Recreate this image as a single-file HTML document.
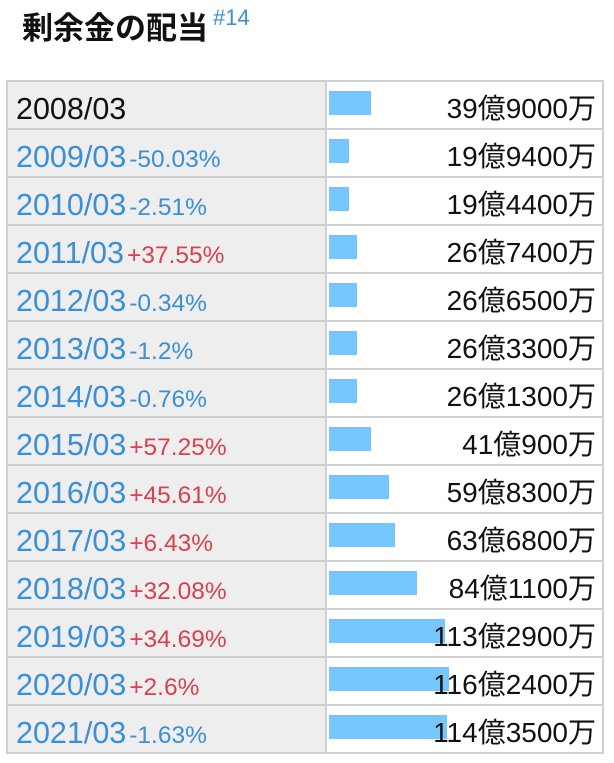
<!DOCTYPE html><html><head><meta charset="utf-8"><style>
body{margin:0;width:614px;height:760px;background:#fff;font-family:"Liberation Sans","Noto Sans CJK JP",sans-serif;position:relative;overflow:hidden}
h1{position:absolute;left:22px;top:4px;margin:0;font-size:31px;line-height:44px;font-weight:bold;color:#111;font-family:"Noto Sans CJK JP",sans-serif;white-space:nowrap}
.sup{position:absolute;left:213px;top:5px;font-size:22px;color:#3a8fd6}
.row{position:absolute;left:6px;width:598px;height:48px;box-sizing:border-box;border:2px solid #d0d0d0;border-bottom:none}
.l{position:absolute;left:0;top:0;width:319px;height:46px;background:#eee;border-right:2px solid #d0d0d0;color:#3a8fd6;font-size:30.5px;line-height:54px;padding-left:8px;box-sizing:border-box;white-space:nowrap}
.r{position:absolute;left:321px;top:0;width:267px;height:46px;text-align:right;color:#111;font-size:28px;line-height:54px;white-space:nowrap}
.b{position:absolute;left:0;top:9px;height:24px;background:#77c7ff}
.v{position:relative}
.p{font-size:24.5px;color:#3a8fd6;margin-left:3px}.n{color:#d9414f}
.end{position:absolute;left:6px;top:752px;width:598px;height:2px;background:#d0d0d0}
</style></head><body>
<h1>剰余金の配当</h1><div class="sup">#14</div>
<div class="row" style="top:80px"><div class="l" style="color:#111">2008/03</div><div class="r"><div class="b" style="width:42px"></div><span class="v">39億9000万</span></div></div>
<div class="row" style="top:128px"><div class="l">2009/03<span class="p">-50.03%</span></div><div class="r"><div class="b" style="width:20px"></div><span class="v">19億9400万</span></div></div>
<div class="row" style="top:176px"><div class="l">2010/03<span class="p">-2.51%</span></div><div class="r"><div class="b" style="width:20px"></div><span class="v">19億4400万</span></div></div>
<div class="row" style="top:224px"><div class="l">2011/03<span class="p n">+37.55%</span></div><div class="r"><div class="b" style="width:28px"></div><span class="v">26億7400万</span></div></div>
<div class="row" style="top:272px"><div class="l">2012/03<span class="p">-0.34%</span></div><div class="r"><div class="b" style="width:28px"></div><span class="v">26億6500万</span></div></div>
<div class="row" style="top:320px"><div class="l">2013/03<span class="p">-1.2%</span></div><div class="r"><div class="b" style="width:28px"></div><span class="v">26億3300万</span></div></div>
<div class="row" style="top:368px"><div class="l">2014/03<span class="p">-0.76%</span></div><div class="r"><div class="b" style="width:28px"></div><span class="v">26億1300万</span></div></div>
<div class="row" style="top:416px"><div class="l">2015/03<span class="p n">+57.25%</span></div><div class="r"><div class="b" style="width:42px"></div><span class="v">41億900万</span></div></div>
<div class="row" style="top:464px"><div class="l">2016/03<span class="p n">+45.61%</span></div><div class="r"><div class="b" style="width:60px"></div><span class="v">59億8300万</span></div></div>
<div class="row" style="top:512px"><div class="l">2017/03<span class="p n">+6.43%</span></div><div class="r"><div class="b" style="width:66px"></div><span class="v">63億6800万</span></div></div>
<div class="row" style="top:560px"><div class="l">2018/03<span class="p n">+32.08%</span></div><div class="r"><div class="b" style="width:88px"></div><span class="v">84億1100万</span></div></div>
<div class="row" style="top:608px"><div class="l">2019/03<span class="p n">+34.69%</span></div><div class="r"><div class="b" style="width:116px"></div><span class="v">113億2900万</span></div></div>
<div class="row" style="top:656px"><div class="l">2020/03<span class="p n">+2.6%</span></div><div class="r"><div class="b" style="width:120px"></div><span class="v">116億2400万</span></div></div>
<div class="row" style="top:704px"><div class="l">2021/03<span class="p">-1.63%</span></div><div class="r"><div class="b" style="width:118px"></div><span class="v">114億3500万</span></div></div>
<div class="end"></div>
</body></html>
